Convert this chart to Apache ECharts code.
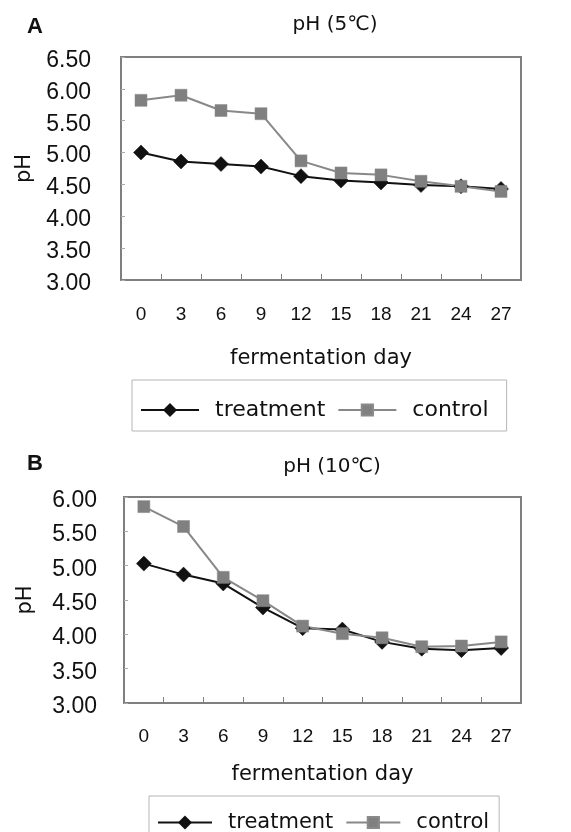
<!DOCTYPE html>
<html>
<head>
<meta charset="utf-8">
<script src="https://cdn.jsdelivr.net/npm/echarts@6/dist/echarts.min.js"></script>
<style>html,body{margin:0;padding:0;background:#fff;}#c{width:571px;height:832px;}</style>
</head>
<body>
<div id="c"></div>
<script>
const days = ['0','3','6','9','12','15','18','21','24','27'];
const treatA = [5.00,4.86,4.82,4.78,4.63,4.56,4.53,4.49,4.47,4.43];
const ctrlA  = [5.82,5.90,5.66,5.61,4.87,4.68,4.65,4.55,4.47,4.39];
const treatB = [5.03,4.87,4.74,4.39,4.09,4.07,3.89,3.79,3.77,3.80];
const ctrlB  = [5.86,5.57,4.83,4.49,4.12,4.01,3.95,3.82,3.83,3.89];
const yRangeA = [3.0, 6.5];
const yRangeB = [3.0, 6.0];
const yStep = 0.5;
const seriesNames = ['treatment','control'];
const titlesText = ['pH (5℃)','pH (10℃)'];
const panelLetters = ['A','B'];
const xName = 'fermentation day';
const yName = 'pH';

const numFont = 'Liberation Sans';
const txtFont = 'DejaVu Sans';
const frame = '#7f7f7f';

function xAx(gi, gap, nameGap){
  return {
    type:'category', gridIndex:gi, data:days, boundaryGap:true,
    name:xName, nameLocation:'middle', nameGap:nameGap,
    nameTextStyle:{fontFamily:txtFont, fontSize:21, color:'#111'},
    axisLine:{show:true, lineStyle:{color:frame, width:2}},
    axisTick:{show:true, inside:true, length:6, lineStyle:{color:frame, width:1}},
    axisLabel:{fontFamily:numFont, fontSize:19, color:'#111', margin:gap},
    splitLine:{show:false}
  };
}
function yAx(gi, range, gap, nameGap){
  return {
    type:'value', gridIndex:gi, min:range[0], max:range[1], interval:yStep,
    name:yName, nameLocation:'middle', nameGap:nameGap,
    nameTextStyle:{fontFamily:txtFont, fontSize:21, color:'#111'},
    axisLine:{show:true, lineStyle:{color:frame, width:2}},
    axisTick:{show:true, inside:true, length:4, lineStyle:{color:'#aaa', width:1}},
    axisLabel:{color:'#111', margin:gap,
      formatter:v=>'{n|' + v.toFixed(2) + '}',
      rich:{n:{fontFamily:numFont, fontSize:23, color:'#111', padding:[7,0,0,0]}}},
    splitLine:{show:false}
  };
}
function mkSeries(gi, name, data){
  const isT = name === 'treatment';
  return {
    type:'line', name:name, xAxisIndex:gi, yAxisIndex:gi, data:data,
    symbol: isT ? 'diamond' : 'rect',
    symbolSize: isT ? 15 : 12,
    itemStyle:{color: isT ? '#111' : '#808080', borderColor: isT ? '#111':'#8a8a8a', borderWidth:0.5},
    lineStyle:{color: isT ? '#111' : '#888', width:2},
    emphasis:{disabled:true},
    animation:false
  };
}
function mkLegend(left, top, pad, iw, fs){
  return {
    left:left, top:top, orient:'horizontal', data:seriesNames,
    padding:pad, itemGap:12, itemWidth:iw, itemHeight:14,
    borderColor:'#b5b5b5', borderWidth:1,
    textStyle:{fontFamily:txtFont, fontSize:fs, color:'#111', padding:[0,0,0,11]}
  };
}

const chart = echarts.init(document.getElementById('c'), null, {renderer:'canvas'});
chart.setOption({
  backgroundColor:'#fff',
  animation:false,
  title:[
    {text:titlesText[0], left:330, top:10, textAlign:'center', textStyle:{fontFamily:txtFont, fontSize:20, fontWeight:'normal', color:'#111'}},
    {text:panelLetters[0], left:22, top:11, textStyle:{fontFamily:numFont, fontSize:22, fontWeight:'bold', color:'#111'}},
    {text:titlesText[1], left:327, top:452, textAlign:'center', textStyle:{fontFamily:txtFont, fontSize:20, fontWeight:'normal', color:'#111'}},
    {text:panelLetters[1], left:22, top:448, textStyle:{fontFamily:numFont, fontSize:22, fontWeight:'bold', color:'#111'}}
  ],
  legend:[ mkLegend(132, 380, [19,18,10,8], 58, 22), mkLegend(149, 796, [16,10,10,8], 54, 21) ],
  grid:[
    {left:121, top:57, width:400, height:223, show:true, borderColor:frame, borderWidth:2, backgroundColor:'#fff'},
    {left:124, top:497, width:397, height:206, show:true, borderColor:frame, borderWidth:2, backgroundColor:'#fff'}
  ],
  xAxis:[ xAx(0, 25, 68), xAx(1, 24, 61) ],
  yAxis:[ yAx(0, yRangeA, 30, 83), yAx(1, yRangeB, 27, 88) ],
  series:[
    mkSeries(0, 'treatment', treatA), mkSeries(0, 'control', ctrlA),
    mkSeries(1, 'treatment', treatB), mkSeries(1, 'control', ctrlB)
  ]
});
</script>
</body>
</html>
